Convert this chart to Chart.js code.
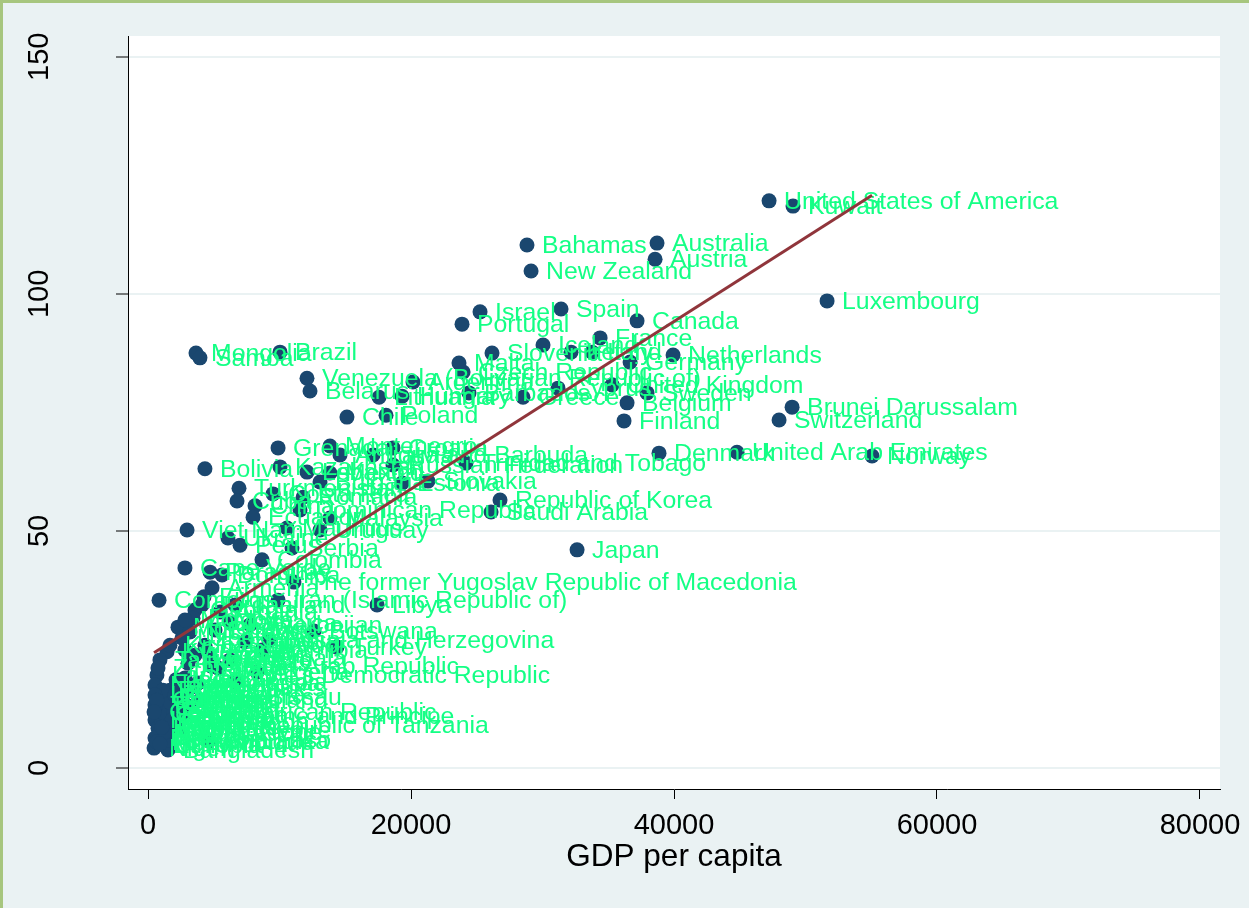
<!DOCTYPE html>
<html>
<head>
<meta charset="utf-8">
<script src="https://cdn.jsdelivr.net/npm/chart.js@4.4.1/dist/chart.umd.min.js"></script>
<style>
  html, body { margin: 0; padding: 0; background: #eaf2f3; }
  canvas { display: block; }
</style>
</head>
<body>
<canvas id="chart" width="1249" height="908"></canvas>
<script>
// Scatter: value vs GDP per capita, labelled by country, with linear fit

const countries = [
  "United States of America", "Kuwait", "Bahamas", "Australia", "Austria", "New Zealand", "Luxembourg", "Israel", "Spain", "Portugal",
  "Canada", "France", "Iceland", "Slovenia", "Ireland", "Italy", "Germany", "Netherlands", "Malta", "Czech Republic",
  "Venezuela (Bolivarian Republic of)", "Belarus", "Lithuania", "Argentina", "Hungary", "Barbados", "Greece", "Cyprus", "United Kingdom", "Sweden",
  "Belgium", "Finland", "Denmark", "United Arab Emirates", "Norway", "Brunei Darussalam", "Switzerland", "Japan", "Republic of Korea", "Saudi Arabia",
  "Trinidad and Tobago", "Russian Federation", "Estonia", "Slovakia", "Montenegro", "Antigua and Barbuda", "Latvia", "Croatia", "Mongolia", "Samoa",
  "Brazil", "Chile", "Poland", "Grenada", "Bolivia", "Kazakhstan", "Mexico", "Bulgaria", "Turkmenistan", "Cuba",
  "China", "Costa Rica", "Ecuador", "Dominican Republic", "Malaysia", "Uruguay", "Mauritius", "Viet Nam", "Ukraine", "Peru",
  "Serbia", "Colombia", "Cape Verde", "Paraguay", "Dominica", "The former Yugoslav Republic of Macedonia", "Armenia", "Comoros", "Iran (Islamic Republic of)", "Fiji",
  "Libya", "Jordan", "Georgia", "Egypt", "Morocco", "Jamaica", "Botswana", "Bosnia and Herzegovina", "Turkey", "Uzbekistan",
  "Tunisia", "Namibia", "Kyrgyzstan", "Syrian Arab Republic", "Algeria", "Lao People's Democratic Republic", "Angola", "Guinea-Bissau", "Sao Tome and Principe", "United Republic of Tanzania",
  "Sri Lanka", "Bangladesh", "Tajikistan", "Nepal", "India", "Pakistan", "Yemen", "Nigeria", "Ghana", "Cambodia",
  "Haiti", "Kenya", "Uganda", "Mali", "Burkina Faso", "Ethiopia", "Madagascar", "Malawi", "Niger", "Mozambique",
  "Rwanda", "Chad", "Sierra Leone", "Guinea", "Benin", "Togo", "Senegal", "Zambia", "Cameroon", "Côte d'Ivoire",
  "Sudan", "Lesotho", "Djibouti", "Burundi", "Eritrea", "Myanmar", "Liberia", "Mauritania", "Zimbabwe", "Swaziland",
  "Indonesia", "Philippines", "Guatemala", "Honduras", "El Salvador", "Nicaragua", "Bhutan", "Belize", "Guyana", "Azerbaijan",
  "Albania", "Thailand", "Moldova", "Kiribati", "Vanuatu", "Iraq", "Gambia", "Central African Republic", "Congo", "Lebanon",
  "Romania"
];

const gdpPerCapita = [
  47230, 49050, 28820, 38710, 38560, 29130, 51640, 25250, 31410, 23880,
  37190, 34380, 30040, 26160, 32170, 33770, 36660, 39930, 23650, 23960,
  12090, 12320, 17570, 20150, 19320, 24410, 28520, 31180, 35290, 37950,
  36430, 36200, 38860, 44790, 55060, 48980, 47990, 32630, 26770, 26090,
  24180, 18630, 19320, 21290, 13840, 14600, 17110, 18630, 3650, 3950,
  10040, 15130, 18100, 9890, 4330, 10040, 13840, 13080, 6920, 6770,
  8140, 9510, 7990, 11560, 13840, 13080, 10570, 2970, 6080, 7000,
  10950, 8670, 2810, 4720, 5630, 11100, 4870, 840, 9890, 4260,
  17420, 4110, 3570, 3420, 2280, 6240, 12620, 9200, 14370, 2590,
  7380, 8670, 1450, 4790, 8290, 680, 6620, 1220, 2660, 1290,
  4640, 1520, 910, 530, 2130, 1670, 2280, 2890, 1520, 910,
  530, 1290, 760, 1140, 1670, 760, 910, 530, 460, 680,
  1060, 1520, 1290, 910, 1370, 530, 1980, 1830, 2280, 2280,
  2590, 1670, 2430, 910, 1140, 1060, 530, 2050, 760, 3950,
  3800, 3190, 4720, 3040, 4330, 3190, 5100, 6240, 2810, 7760,
  5480, 6620, 2810, 1670, 3570, 5320, 680, 460, 2810, 12090,
  11790
];

const values = [
  119.6, 118.5, 110.3, 110.7, 107.3, 104.8, 98.5, 96.2, 96.8, 93.6,
  94.3, 90.7, 89.2, 87.5, 87.7, 87.7, 85.6, 87.1, 85.4, 83.5,
  82.2, 79.5, 78.2, 81.4, 78.4, 79.1, 78.2, 80.1, 80.8, 79.1,
  77.0, 73.2, 66.4, 66.6, 65.8, 76.1, 73.4, 46.0, 56.5, 54.0,
  64.3, 63.9, 60.1, 60.5, 67.9, 66.0, 66.0, 67.5, 87.5, 86.5,
  87.7, 74.0, 74.4, 67.5, 63.1, 63.5, 62.2, 60.3, 59.0, 56.3,
  55.3, 57.8, 52.9, 54.4, 52.7, 50.2, 50.6, 50.2, 48.5, 47.0,
  46.4, 43.9, 42.2, 41.3, 40.7, 39.2, 38.0, 35.4, 35.4, 36.1,
  34.4, 34.4, 33.3, 31.6, 29.7, 30.6, 28.9, 27.0, 25.5, 27.4,
  26.6, 24.9, 24.5, 21.5, 20.2, 19.6, 18.1, 15.0, 11.0, 9.1,
  5.7, 3.8, 22.8, 17.5, 18.6, 16.4, 14.3, 13.3, 12.2, 11.2,
  10.1, 14.3, 8.4, 7.0, 5.9, 4.9, 7.4, 6.3, 4.2, 5.5,
  9.7, 9.1, 7.6, 12.7, 11.0, 13.3, 11.8, 10.1, 9.7, 8.0,
  15.4, 13.9, 16.9, 5.1, 16.4, 8.6, 15.4, 15.4, 21.1, 14.3,
  17.9, 16.9, 23.2, 22.1, 25.9, 28.7, 29.1, 22.8, 24.9, 30.2,
  32.9, 34.4, 31.2, 25.9, 23.8, 21.1, 14.3, 11.8, 19.0, 62.4,
  57.1
];

// fitted line endpoints
const fitX = [460, 55060];
const fitY = [24.3, 120.8];

const xTicks = [0, 20000, 40000, 60000, 80000];
const yTicks = [0, 50, 100, 150];

const MARKER = "#1a476f";
const LABEL_GREEN = "#14ff85";
const FIT_RED = "#90353b";
const BG = "#eaf2f3";

const backdrop = {
  id: "backdrop",
  beforeDraw(chart) {
    const { ctx, width, height, chartArea } = chart;
    ctx.save();
    ctx.fillStyle = BG;
    ctx.fillRect(0, 0, width, height);
    ctx.fillStyle = "#a7c67e";
    ctx.fillRect(0, 0, width, 3);
    ctx.fillRect(0, 0, 3, height);
    ctx.fillStyle = "#ffffff";
    ctx.fillRect(chartArea.left, chartArea.top,
      chartArea.right - chartArea.left, chartArea.bottom - chartArea.top);
    ctx.restore();
  },
};

const pointLabels = {
  id: "pointLabels",
  afterDatasetDraw(chart, args) {
    if (args.index !== 0) return;
    const ctx = chart.ctx;
    ctx.save();
    ctx.font = '24.8px "Liberation Sans", Arial, sans-serif';
    ctx.fillStyle = LABEL_GREEN;
    ctx.textAlign = "left";
    ctx.textBaseline = "middle";
    args.meta.data.forEach((pt, i) => {
      ctx.fillText(countries[i], pt.x + 15, pt.y + 1);
    });
    ctx.restore();
  },
};

const axisText = {
  id: "axisText",
  afterDraw(chart) {
    const { ctx, scales, chartArea } = chart;
    ctx.save();
    ctx.fillStyle = "#000";
    ctx.font = '29px "Liberation Sans", Arial, sans-serif';
    ctx.textAlign = "center";
    ctx.textBaseline = "middle";
    xTicks.forEach((v) => {
      ctx.fillText(String(v), scales.x.getPixelForValue(v), 826);
    });
    yTicks.forEach((v) => {
      ctx.save();
      ctx.translate(40, scales.y.getPixelForValue(v));
      ctx.rotate(-Math.PI / 2);
      ctx.fillText(String(v), 0, 0);
      ctx.restore();
    });
    ctx.font = '31.5px "Liberation Sans", Arial, sans-serif';
    ctx.fillText("GDP per capita", (chartArea.left + chartArea.right) / 2, 857);
    ctx.restore();
  },
};

new Chart(document.getElementById("chart"), {
  type: "scatter",
  data: {
    datasets: [
      {
        data: countries.map((c, i) => ({ x: gdpPerCapita[i], y: values[i] })),
        backgroundColor: MARKER,
        borderColor: MARKER,
        borderWidth: 0,
        pointRadius: 7.5,
        order: 2,
      },
      {
        type: "line",
        data: fitX.map((x, i) => ({ x: x, y: fitY[i] })),
        borderColor: FIT_RED,
        borderWidth: 3,
        pointRadius: 0,
        fill: false,
        order: 1,
      },
    ],
  },
  options: {
    responsive: false,
    animation: false,
    devicePixelRatio: 1,
    events: [],
    layout: { padding: { top: 36, right: 29, left: 0, bottom: 0 } },
    plugins: { legend: { display: false }, tooltip: { enabled: false } },
    scales: {
      x: {
        type: "linear",
        min: -1521,
        max: 81521,
        afterBuildTicks: (s) => { s.ticks = xTicks.map((v) => ({ value: v })); },
        afterFit: (s) => { s.height = 119; },
        ticks: { display: false },
        grid: { drawOnChartArea: false, drawTicks: true, tickLength: 10, tickColor: "#000", tickWidth: 1 },
        border: { display: true, color: "#000", width: 1 },
      },
      y: {
        type: "linear",
        min: -4.43,
        max: 154.37,
        afterBuildTicks: (s) => { s.ticks = yTicks.map((v) => ({ value: v })); },
        afterFit: (s) => { s.width = 128; },
        ticks: { display: false },
        grid: { color: BG, lineWidth: 2, drawTicks: true, tickLength: 12, tickColor: "#000", tickWidth: 1 },
        border: { display: true, color: "#000", width: 1 },
      },
    },
  },
  plugins: [backdrop, pointLabels, axisText],
});
</script>
</body>
</html>
